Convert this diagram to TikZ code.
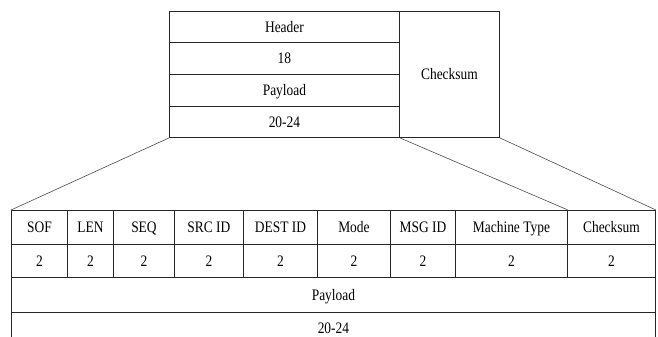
\documentclass[tikz,border=0pt]{standalone}
\usepackage{fontspec}
\setmainfont{Liberation Serif}[FakeStretch=0.84]
\begin{document}
\begin{tikzpicture}[x=1pt,y=-1pt,
  cell/.style={draw=black!85, line width=0.9pt, anchor=north west, inner sep=0pt,
               text height=11.5pt, text depth=0.5pt, font=\fontsize{16}{17}\selectfont},
  link/.style={draw=black!70, line width=0.6pt}]
\clip (0,0) rectangle (658,337);
\fill[white] (0,0) rectangle (658,337);

% frame overview
\node[cell, minimum width=230pt, minimum height=31pt] (hdr)  at (169,11)  {Header};
\node[cell, minimum width=230pt, minimum height=32pt] (hdrv) at (169,42)  {18};
\node[cell, minimum width=230pt, minimum height=32pt] (pl)   at (169,74)  {Payload};
\node[cell, minimum width=230pt, minimum height=31pt] (plv)  at (169,106) {20-24};
\node[cell, minimum width=100pt, minimum height=126pt] (ck)  at (399,11)  {Checksum};

% detailed field layout
\foreach \x/\w/\t/\n in {11/56/SOF/sof, 67/46/LEN/len, 113/61/SEQ/seq,
    174/69/SRC ID/src, 243/74/DEST ID/dst, 317/73/Mode/mode,
    390/65/MSG ID/msg, 455/112/Machine Type/mt, 567/88/Checksum/cks} {
  \node[cell, minimum width=\w pt, minimum height=34pt] (\n)   at (\x,210) {\t};
  \node[cell, minimum width=\w pt, minimum height=33pt] (\n-v) at (\x,244) {2};
}
\node[cell, minimum width=644pt, minimum height=35pt] (bpl)  at (11,277) {Payload};
\node[cell, minimum width=644pt, minimum height=32pt] (bplv) at (11,312) {20-24};

% expansion lines
\draw[link] (plv.south west) -- (sof.north west);
\draw[link] (plv.south east) -- (mt.north east);
\draw[link] (ck.south east)  -- (cks.north east);
\end{tikzpicture}
\end{document}
